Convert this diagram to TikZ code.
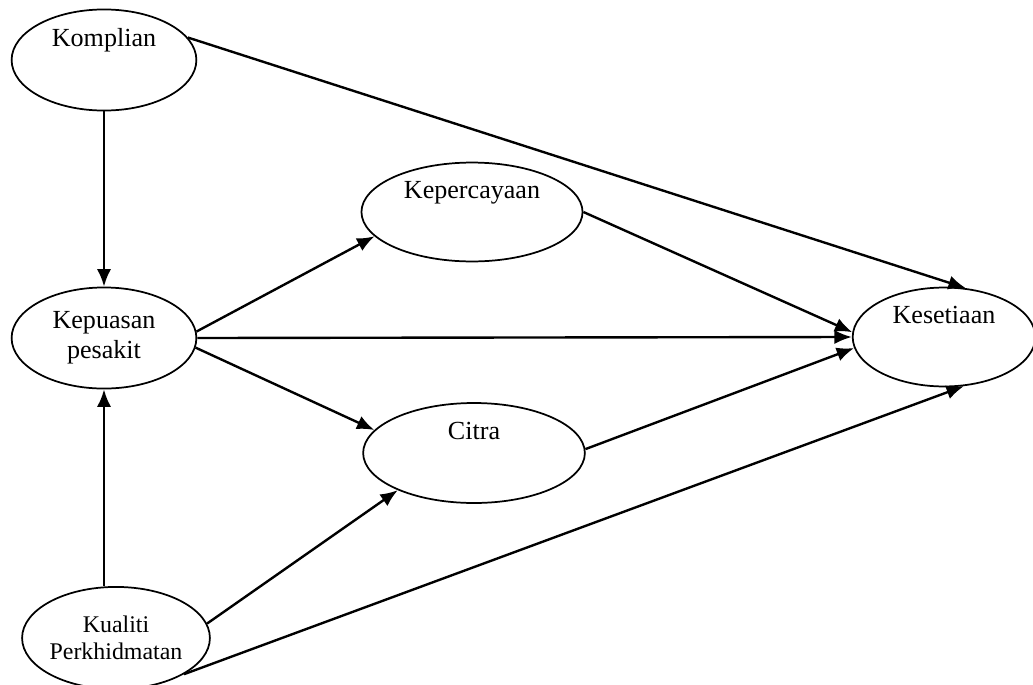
\documentclass[tikz,border=0pt]{standalone}
\usepackage{fontspec}
\setmainfont{Liberation Serif}
\usetikzlibrary{shapes.geometric,arrows.meta}

\begin{document}
\begin{tikzpicture}[>={Latex[length=8pt,width=6.5pt]},x=0.46pt,y=-0.46pt,
    var/.style={ellipse,draw,line width=0.8pt,inner sep=0pt,align=center,
                font=\fontsize{12}{14}\selectfont},
    oneline/.style={text height=8pt,text depth=20pt}, % text sits in the upper half
    link/.style={->,line width=1.1pt}]
    \useasboundingbox (0,0) rectangle (1033,684);

    % the constructs
    \node[var,oneline,minimum width=85pt,minimum height=46.5pt] (komplian) at (104,60) {Komplian};
    \node[var,minimum width=85pt,minimum height=46.5pt] (kepuasan) at (104,338) {Kepuasan\\pesakit};
    \node[var,font=\fontsize{11}{12.4}\selectfont,minimum width=86pt,minimum height=47pt]
        (kualiti) at (116,638) {Kualiti\\Perkhidmatan};
    \node[var,oneline,minimum width=101.7pt,minimum height=45.5pt] (kepercayaan) at (472,212) {Kepercayaan};
    \node[var,oneline,minimum width=102pt,minimum height=46pt] (citra) at (474,453) {Citra};
    \node[var,oneline,minimum width=84pt,minimum height=45.5pt] (kesetiaan) at (944,337) {Kesetiaan};

    % paths between them
    \draw[link] (komplian) -- (kepuasan);
    \draw[link] (kualiti.north -| kepuasan) -- (kepuasan);
    \draw[link] (komplian.15) -- (kesetiaan.66);
    \draw[link] (kepuasan.4) -- (kepercayaan.194);
    \draw[link] (kepuasan.east) -- (kesetiaan.west);
    \draw[link] (kepuasan.-6) -- (citra.167);
    \draw[link] (kepercayaan.east) -- (kesetiaan.177);
    \draw[link] (citra.2) -- (kesetiaan.187);
    \draw[link] (kualiti.9) -- (citra.206);
    \draw[link] (kualiti.-28) -- (kesetiaan.-68);
\end{tikzpicture}
\end{document}
